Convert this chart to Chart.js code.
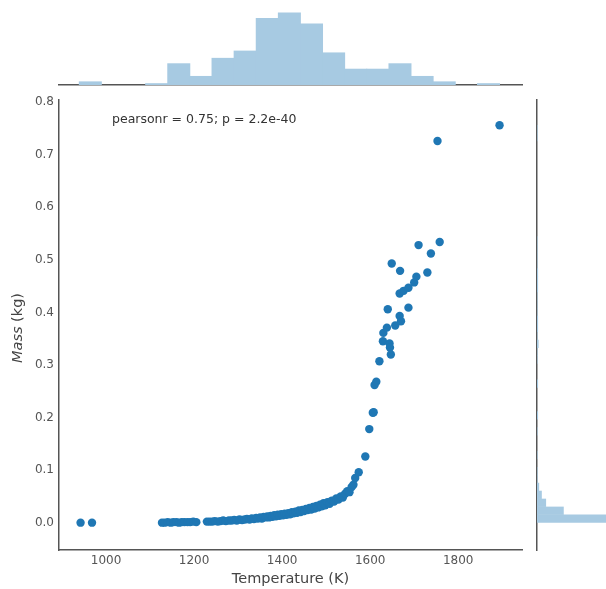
<!DOCTYPE html>
<html>
<head>
<meta charset="utf-8">
<title>Mass vs Temperature</title>
<script src="https://cdn.jsdelivr.net/npm/chart.js@4.4.0/dist/chart.umd.min.js"></script>
<style>
  html, body { margin: 0; padding: 0; background: #fff; overflow: hidden; }
  #wrap { position: relative; width: 606px; height: 589px; overflow: hidden; }
  canvas { position: absolute; }
  #topHist { left: 0; top: 0; }
  #mainChart { left: 0; top: 0; }
  #rightHist { left: 530px; top: 0; }
</style>
</head>
<body>
<div id="wrap">
  <canvas id="topHist" width="530" height="95"></canvas>
  <canvas id="mainChart" width="530" height="589"></canvas>
  <canvas id="rightHist" width="90" height="589"></canvas>
</div>
<script>
// Scatter data
const temperature = [
  942, 968,
  1127, 1133, 1140, 1147, 1153, 1160, 1166, 1172, 1178, 1185, 1191, 1198, 1205,
  1229, 1235, 1241, 1247, 1254, 1260, 1266, 1272, 1279, 1285, 1291, 1297, 1303, 1309,
  1315, 1320, 1326, 1331, 1336, 1341, 1345, 1350, 1354, 1358, 1362, 1366, 1370, 1374,
  1378, 1382, 1386, 1390, 1394, 1398, 1402, 1406, 1410, 1414, 1418, 1422, 1426, 1430,
  1434, 1438, 1442, 1446, 1450, 1454, 1458, 1462, 1466, 1470, 1474, 1478, 1482, 1486,
  1490, 1494, 1498, 1503, 1508, 1513, 1518, 1523, 1528, 1533, 1538, 1543, 1548, 1553,
  1558, 1562, 1566, 1574, 1589, 1598, 1606, 1608, 1610, 1614,
  1621, 1629, 1630, 1638, 1640, 1644, 1645, 1647, 1649, 1657, 1667, 1667, 1668, 1670,
  1676, 1687, 1687, 1700, 1705, 1710, 1730, 1738, 1753, 1758, 1894
];
const mass = [
  0.000, 0.000,
  0.000, 0.000, 0.001, 0.000, 0.001, 0.001, 0.000, 0.001, 0.001, 0.001, 0.001, 0.002, 0.001,
  0.002, 0.002, 0.002, 0.003, 0.002, 0.003, 0.004, 0.003, 0.004, 0.004, 0.005, 0.004, 0.006, 0.005,
  0.006, 0.007, 0.006, 0.008, 0.007, 0.009, 0.008, 0.010, 0.008, 0.011, 0.010, 0.012, 0.010, 0.013,
  0.011, 0.014, 0.012, 0.015, 0.013, 0.016, 0.014, 0.017, 0.015, 0.018, 0.016, 0.020, 0.018, 0.021,
  0.019, 0.023, 0.020, 0.024, 0.022, 0.026, 0.024, 0.028, 0.025, 0.030, 0.027, 0.032, 0.029, 0.034,
  0.031, 0.037, 0.033, 0.039, 0.036, 0.042, 0.040, 0.046, 0.044, 0.050, 0.048, 0.055, 0.060, 0.058,
  0.068, 0.072, 0.085, 0.096, 0.126, 0.178, 0.209, 0.210, 0.262, 0.268,
  0.307, 0.345, 0.361, 0.371, 0.406, 0.341, 0.333, 0.320, 0.493, 0.375, 0.393, 0.436, 0.479, 0.383,
  0.441, 0.447, 0.409, 0.457, 0.468, 0.528, 0.476, 0.512, 0.726, 0.534, 0.756
];

// Tick labels
const xTicks = [1000, 1200, 1400, 1600, 1800];
const yTicks = [0.0, 0.1, 0.2, 0.3, 0.4, 0.5, 0.6, 0.7, 0.8];

// Top marginal histogram (temperature)
const tempBinEdges = [939, 989.3, 1039.5, 1089.8, 1140.0, 1190.3, 1240.6, 1290.8, 1341.1, 1391.3,
  1441.6, 1491.9, 1542.1, 1592.4, 1642.6, 1692.9, 1743.2, 1793.4, 1843.7, 1894];
const tempCounts = [2, 0, 0, 1, 12, 5, 15, 19, 37, 40, 34, 18, 9, 9, 12, 5, 2, 0, 1];

// Right marginal histogram (mass)
const massBinEdges = [0, 0.0151, 0.0302, 0.0454, 0.0605, 0.0756, 0.0907, 0.1058, 0.1210, 0.1361,
  0.1512, 0.1663, 0.1814, 0.1966, 0.2117, 0.2268, 0.2419, 0.2570, 0.2722, 0.2873,
  0.3024, 0.3175, 0.3326, 0.3478, 0.3629, 0.3780, 0.3931, 0.4082, 0.4234, 0.4385,
  0.4536, 0.4687, 0.4838, 0.4990, 0.5141, 0.5292, 0.5443, 0.5594, 0.5746, 0.5897,
  0.6048, 0.6199, 0.6350, 0.6502, 0.6653, 0.6804, 0.6955, 0.7106, 0.7258, 0.7409, 0.7560];
const massCounts = [135, 50, 17, 9, 4, 1, 1, 0, 1, 0, 0, 1, 0, 2, 0, 0, 0, 2, 0, 0,
  1, 1, 3, 1, 2, 2, 1, 1, 1, 2, 2, 2, 1, 1, 1, 1, 0, 0, 0, 0,
  0, 0, 0, 0, 0, 0, 0, 0, 1, 1];

const statText = 'pearsonr = 0.75; p = 2.2e-40';

const X_MIN = 893, X_MAX = 1945;
const Y_MIN = -0.052, Y_MAX = 0.804;
const FONT = 'DejaVu Sans';
const SPINE = '#555';
const BLUE = '#1f77b4';
const HIST_BLUE = '#a7cae2';

function centers(edges) {
  const out = [];
  for (let i = 0; i < edges.length - 1; i++) out.push((edges[i] + edges[i + 1]) / 2);
  return out;
}

// annotation + y title ("Mass" in italic like mathtext)
const textPlugin = {
  id: 'extraText',
  afterDraw(chart) {
    const ctx = chart.ctx;
    const area = chart.chartArea;
    ctx.save();
    ctx.font = '12.5px "' + FONT + '"';
    ctx.fillStyle = '#333';
    ctx.textBaseline = 'middle';
    ctx.textAlign = 'left';
    ctx.fillText(statText, area.left + 53, area.top + 20);

    const italic = 'italic 14.5px "' + FONT + '"';
    const normal = '14.5px "' + FONT + '"';
    ctx.font = italic;
    const w1 = ctx.measureText('Mass').width;
    ctx.font = normal;
    const w2 = ctx.measureText(' (kg)').width;
    ctx.translate(18, (area.top + area.bottom) / 2 + 3);
    ctx.rotate(-Math.PI / 2);
    ctx.fillStyle = '#444';
    const start = -(w1 + w2) / 2;
    ctx.font = italic;
    ctx.fillText('Mass', start, 0);
    ctx.font = normal;
    ctx.fillText(' (kg)', start + w1, 0);
    ctx.restore();
  }
};

// Main scatter
new Chart(document.getElementById('mainChart'), {
  type: 'scatter',
  data: {
    datasets: [{
      data: temperature.map((t, i) => ({ x: t, y: mass[i] })),
      backgroundColor: BLUE,
      borderColor: BLUE,
      borderWidth: 0,
      pointRadius: 4.2
    }]
  },
  options: {
    responsive: false,
    animation: false,
    layout: { padding: { top: 100, right: 8, left: 0, bottom: 0 } },
    plugins: { legend: { display: false }, tooltip: { enabled: false } },
    scales: {
      x: {
        type: 'linear',
        min: X_MIN,
        max: X_MAX,
        grid: { display: false, drawTicks: false },
        border: { display: true, color: SPINE, width: 1.5 },
        afterBuildTicks: s => { s.ticks = xTicks.map(v => ({ value: v })); },
        afterFit: s => { s.height = 39; },
        ticks: {
          color: '#555',
          font: { family: FONT, size: 12 },
          padding: 4,
          maxRotation: 0,
          callback: v => String(v)
        },
        title: {
          display: true,
          text: 'Temperature (K)',
          color: '#444',
          font: { family: FONT, size: 14.5 },
          padding: { top: 0, bottom: 1 }
        }
      },
      y: {
        type: 'linear',
        min: Y_MIN,
        max: Y_MAX,
        grid: { display: false, drawTicks: false },
        border: { display: true, color: SPINE, width: 1.5 },
        afterBuildTicks: s => { s.ticks = yTicks.map(v => ({ value: v })); },
        afterFit: s => { s.width = 59; },
        ticks: {
          color: '#555',
          font: { family: FONT, size: 12 },
          padding: 5,
          callback: v => v.toFixed(1)
        }
      }
    }
  },
  plugins: [textPlugin]
});

// Top marginal histogram
new Chart(document.getElementById('topHist'), {
  type: 'bar',
  data: {
    datasets: [{
      data: centers(tempBinEdges).map((c, i) => ({ x: c, y: tempCounts[i] })),
      backgroundColor: HIST_BLUE,
      borderWidth: 0,
      barPercentage: 1.04,
      categoryPercentage: 1
    }]
  },
  options: {
    responsive: false,
    animation: false,
    layout: { padding: { top: 9, right: 8, left: 59, bottom: 10 } },
    plugins: { legend: { display: false }, tooltip: { enabled: false } },
    scales: {
      x: {
        type: 'linear',
        min: X_MIN,
        max: X_MAX,
        offset: false,
        grid: { display: false, drawTicks: false },
        border: { display: true, color: SPINE, width: 1.5 },
        ticks: { display: false },
        afterFit: s => { s.height = 0; }
      },
      y: { display: false, min: 0, max: 42 }
    }
  }
});

// Right marginal histogram
new Chart(document.getElementById('rightHist'), {
  type: 'bar',
  data: {
    datasets: [{
      data: centers(massBinEdges).map((c, i) => ({ y: c, x: massCounts[i] })),
      backgroundColor: HIST_BLUE,
      borderWidth: 0,
      barPercentage: 1.04,
      categoryPercentage: 1
    }]
  },
  options: {
    indexAxis: 'y',
    responsive: false,
    animation: false,
    layout: { padding: { top: 100, right: 7, left: 7, bottom: 39 } },
    plugins: { legend: { display: false }, tooltip: { enabled: false } },
    scales: {
      y: {
        type: 'linear',
        min: Y_MIN,
        max: Y_MAX,
        offset: false,
        grid: { display: false, drawTicks: false },
        border: { display: true, color: SPINE, width: 1.5 },
        ticks: { display: false },
        afterFit: s => { s.width = 0; }
      },
      x: { display: false, min: 0, max: 142 }
    }
  }
});
</script>
</body>
</html>
